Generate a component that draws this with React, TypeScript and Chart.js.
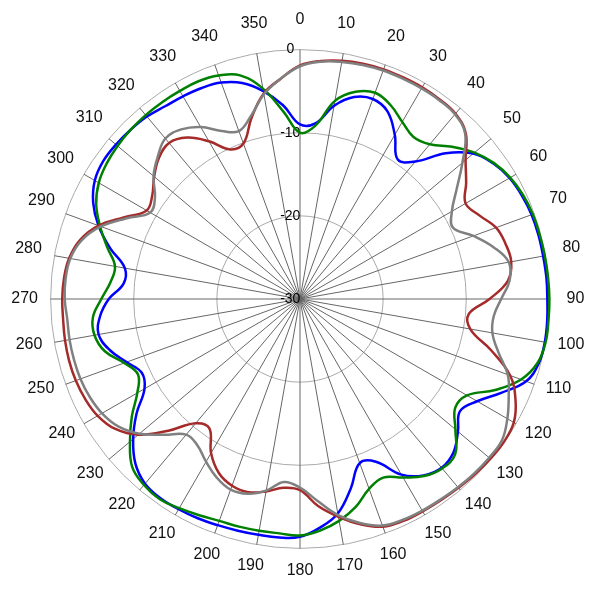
import React, { useEffect, useRef } from 'react';
import { Chart, registerables } from 'chart.js';

Chart.register(...registerables);

// Azimuths (degrees, clockwise from top) at which the patterns were read
const ANGLES = [
  0, 5, 10, 15, 20, 25, 30, 35, 40, 45, 50, 55, 60, 65, 70, 75, 80, 85,
  90, 95, 100, 105, 110, 115, 120, 125, 130, 135, 140, 145, 150, 155, 160, 165, 170, 175,
  180, 185, 190, 195, 200, 205, 210, 215, 220, 225, 230, 235, 240, 245, 250, 255, 260, 265,
  270, 275, 280, 285, 290, 295, 300, 305, 310, 315, 320, 325, 330, 335, 340, 345, 350, 355,
];

// Angular axis labels
const ANGLE_LABELS = [
  0, 10, 20, 30, 40, 50, 60, 70, 80, 90, 100, 110, 120, 130, 140, 150, 160, 170,
  180, 190, 200, 210, 220, 230, 240, 250, 260, 270, 280, 290, 300, 310, 320, 330, 340, 350,
];

// Radial tick values (dB)
const TICKS = [-30, -20, -10, 0];

const GRAY = [
  -2.0, -1.35, -1.05, -0.85, -0.75, -0.75, -0.75, -0.8, -1.0, -1.9, -4.5, -7.0, -8.9, -9.7, -7.8, -5.9, -4.5, -4.7,
  -5.8, -6.6, -6.5, -5.3, -3.4, -2.3, -1.2, -0.35, -0.3, -0.35, -0.45, -0.55, -0.6, -0.7, -1.0, -2.1, -3.6, -5.6,
  -7.3, -7.9, -6.6, -5.75, -5.6, -6.3, -7.4, -8.5, -8.7, -6.9, -4.8, -3.3, -2.5, -2.1, -1.9, -1.85, -1.85, -1.9,
  -1.7, -1.7, -1.95, -2.8, -4.5, -7.0, -9.2, -8.7, -7.0, -5.8, -4.8, -5.1, -6.1, -7.7, -8.5, -7.2, -5.0, -3.4,
];

const RED = [
  -1.9, -1.25, -0.9, -0.7, -0.6, -0.6, -0.6, -0.7, -0.9, -1.8, -4.0, -5.6, -7.0, -6.2, -4.9, -4.4, -4.2, -4.9,
  -7.2, -9.6, -9.2, -6.2, -3.1, -1.4, -0.3, -0.05, -0.1, -0.2, -0.35, -0.45, -0.5, -0.55, -0.85, -1.95, -3.4, -5.0,
  -7.0, -7.2, -6.5, -5.95, -6.1, -6.9, -8.6, -11.0, -10.5, -7.6, -4.6, -2.8, -1.9, -1.5, -1.3, -1.25, -1.3, -1.4,
  -1.4, -1.5, -1.8, -2.6, -4.2, -6.7, -8.7, -8.3, -7.1, -6.0, -5.5, -6.3, -8.1, -10.15, -10.1, -7.45, -4.9, -3.4,
];

const GREEN = [
  -10.0, -9.1, -5.8, -4.2, -3.6, -4.25, -5.4, -6.2, -5.7, -4.1, -2.6, -1.5, -0.8, -0.4, -0.2, -0.15, -0.1, -0.05,
  0, 0, 0, -0.4, -1.7, -4.1, -6.8, -7.2, -5.6, -3.6, -3.4, -4.0, -5.2, -6.3, -5.7, -4.1, -2.9, -2.05,
  -1.55, -1.7, -1.7, -1.65, -1.6, -1.3, -0.95, -0.6, -0.8, -1.45, -3.3, -5.3, -7.4, -8.5, -7.5, -5.7, -4.9, -5.0,
  -6.1, -7.1, -7.4, -6.0, -4.4, -2.95, -2.05, -1.6, -1.35, -1.2, -1.12, -1.1, -1.1, -1.1, -1.4, -2.15, -4.3, -7.4,
];

const BLUE = [
  -9.0, -8.8, -6.4, -4.85, -4.4, -5.1, -7.2, -9.5, -8.4, -5.2, -2.8, -1.6, -0.9, -0.55, -0.35, -0.3, -0.3, -0.25,
  -0.25, -0.15, -0.1, -0.25, -1.05, -3.3, -5.4, -6.5, -5.2, -3.9, -3.5, -4.1, -5.6, -8.4, -9.0, -6.4, -3.8, -2.4,
  -1.4, -1.2, -1.2, -1.15, -1.05, -0.9, -0.8, -0.75, -1.0, -2.0, -3.8, -6.0, -8.4, -9.0, -7.8, -6.3, -5.4, -5.85,
  -7.0, -8.7, -8.6, -6.35, -4.2, -2.55, -1.5, -1.1, -1.1, -1.2, -1.35, -1.7, -1.85, -2.0, -2.3, -3.1, -4.6, -6.6,
];

const FONT_FAMILY = "Arial, 'Liberation Sans', sans-serif";
const STEPS = 360; // one category per degree on the angular axis

export default function App() {
  const ref = useRef<HTMLCanvasElement>(null);

  useEffect(() => {
    const canvas = ref.current;
    if (!canvas) return;

    // Full-circle data tables (one slot per degree, gaps spanned)
    const expand = (values: number[]) => {
      const out: (number | null)[] = new Array(STEPS).fill(null);
      ANGLES.forEach((a, i) => { out[a] = values[i]; });
      return out;
    };

    // Place each angular label so its centre sits on a fixed ring around the plot
    const BASE = 249.4 + 9; // drawing radius + tick backdrop half-height
    const RING = 275.4;
    const YSHIFT = -4;
    const H = 19.2;
    const labelText: string[] = new Array(STEPS).fill('');
    const labelPad: number[] = new Array(STEPS).fill(0);
    const offsetFor = (phi: number, w: number) => {
      const ax = phi === 0 || phi === 180 ? 0 : phi < 180 ? 1 : -1;
      const ay = phi === 90 || phi === 270 ? 0 : phi < 90 || phi > 270 ? -1 : 1;
      return [ax * w / 2, ay * H / 2];
    };
    ANGLE_LABELS.forEach((k) => {
      const text = String(k);
      const w = text.length * 8.9;
      const th = (k * Math.PI) / 180;
      const cx = RING * Math.sin(th);
      const cy = -RING * Math.cos(th) + YSHIFT;
      let best = { phi: k, diff: 1e9, pad: 0 };
      for (let d = -8; d <= 8; d++) {
        const phi = (k + d + 360) % 360;
        const [ox, oy] = offsetFor(phi, w);
        const vx = cx - ox;
        const vy = cy - oy;
        let psi = (Math.atan2(vx, -vy) * 180) / Math.PI;
        psi = (psi + 360) % 360;
        let diff = psi - phi;
        if (diff > 180) diff -= 360;
        if (diff < -180) diff += 360;
        if (Math.abs(diff) < Math.abs(best.diff)) {
          const len = Math.hypot(vx, vy);
          best = { phi, diff, pad: len * Math.cos((diff * Math.PI) / 180) - BASE };
        }
      }
      labelText[best.phi] = text;
      labelPad[best.phi] = best.pad;
    });

    const mk = (label: string, data: number[], color: string) => ({
      label,
      data: expand(data),
      borderColor: color,
      backgroundColor: color,
      borderWidth: 2.5,
      fill: false,
      tension: 0.4,
      spanGaps: true,
      pointRadius: 0,
      pointHoverRadius: 0,
      pointHitRadius: 0,
      borderJoinStyle: 'round' as const,
    });

    const degreeLabels: string[] = [];
    for (let j = 0; j < STEPS; j++) degreeLabels.push(String(j));

    const chart = new Chart(canvas, {
      type: 'radar',
      data: {
        labels: degreeLabels,
        datasets: [
          mk('Gray', GRAY, '#808080'),
          mk('Red', RED, '#a52a2a'),
          mk('Green', GREEN, '#008000'),
          mk('Blue', BLUE, '#0000ff'),
        ],
      },
      options: {
        responsive: false,
        animation: false,
        devicePixelRatio: 1,
        events: [],
        layout: { padding: { left: 9, right: 13, top: 7, bottom: 15 } },
        plugins: {
          legend: { display: false },
          tooltip: { enabled: false },
        },
        scales: {
          r: {
            min: TICKS[0],
            max: TICKS[TICKS.length - 1],
            ticks: {
              stepSize: 10,
              showLabelBackdrop: false,
              color: '#000',
              font: { size: 14, family: FONT_FAMILY },
              callback: (v: number) => String(v) + '\u00a0\u00a0\u00a0\u00a0\u00a0',
            },
            grid: {
              circular: true,
              color: '#aaaaaa',
              lineWidth: 1,
            },
            angleLines: {
              display: true,
              color: '#666666',
              lineWidth: (ctx: any) => (ctx.index % 10 === 0 ? 1 : 0),
            },
            pointLabels: {
              display: true,
              color: '#111',
              font: { size: 16, family: FONT_FAMILY },
              callback: (_label: string, index: number) => labelText[index],
              padding: (ctx: any) => labelPad[ctx.index],
            },
          },
        },
      } as any,
    });

    return () => chart.destroy();
  }, []);

  return (
    <div style={{ position: 'absolute', left: 0, top: 0, width: 600, height: 600, background: '#fff' }}>
      <canvas ref={ref} width={600} height={600} style={{ display: 'block', width: 600, height: 600 }} />
    </div>
  );
}
